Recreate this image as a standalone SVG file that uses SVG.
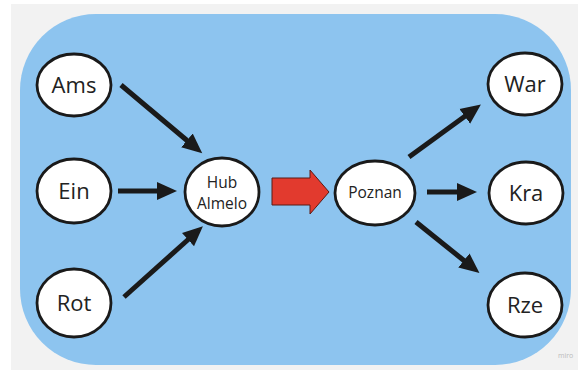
<svg xmlns="http://www.w3.org/2000/svg" width="578" height="370" viewBox="0 0 578 370">
<style>
.node ellipse{fill:#fff;stroke:#1a1a1a;stroke-width:2.8}
.lbl{font-family:"Open Sans","Noto Sans",sans-serif;fill:#222;text-anchor:middle;dominant-baseline:central}
.big{font-size:22px}
.small{font-size:15.5px}
.conn line{stroke:#1a1a1a;stroke-width:5}
</style>
<defs>
<marker id="ah" markerUnits="userSpaceOnUse" markerWidth="22" markerHeight="22" viewBox="0 0 22 22" refX="4" refY="11" orient="auto">
<path d="M0,2 L20,11 L0,20 Z" fill="#1a1a1a"/>
</marker>
</defs>
<rect x="0" y="0" width="578" height="370" fill="#fff"/>
<rect x="11" y="4" width="567" height="366" fill="#f2f2f2"/>
<rect x="20" y="14" width="551" height="351" rx="76" ry="76" fill="#8dc4ef"/>
<g class="conn">
<line x1="121" y1="85" x2="190" y2="143" marker-end="url(#ah)"/>
<line x1="118" y1="191" x2="161" y2="191" marker-end="url(#ah)"/>
<line x1="124" y1="297" x2="191" y2="237" marker-end="url(#ah)"/>
<line x1="409" y1="157" x2="468" y2="114" marker-end="url(#ah)"/>
<line x1="427" y1="192" x2="461" y2="192" marker-end="url(#ah)"/>
<line x1="416" y1="222" x2="467" y2="263" marker-end="url(#ah)"/>
<path d="M272,178 L310,178 L310,170 L329,192 L310,214 L310,205 L272,205 Z" fill="#e23a2e" stroke="#5a1a14" stroke-width="1"/>
</g>
<g id="ams" class="node"><ellipse cx="74" cy="85" rx="37" ry="31"/><text class="lbl big" x="74" y="84">Ams</text></g>
<g id="ein" class="node"><ellipse cx="74" cy="191" rx="37" ry="32"/><text class="lbl big" x="74" y="190">Ein</text></g>
<g id="rot" class="node"><ellipse cx="74" cy="303" rx="37" ry="34"/><text class="lbl big" x="74" y="302">Rot</text></g>
<g id="hub" class="node"><ellipse cx="222" cy="192" rx="37" ry="34"/><text class="lbl small" x="222" y="182">Hub</text><text class="lbl small" x="222" y="203">Almelo</text></g>
<g id="poznan" class="node"><ellipse cx="375" cy="193" rx="40" ry="32"/><text class="lbl small" x="375" y="192">Poznan</text></g>
<g id="war" class="node"><ellipse cx="525" cy="84" rx="37" ry="31"/><text class="lbl big" x="525" y="83">War</text></g>
<g id="kra" class="node"><ellipse cx="526" cy="193" rx="37" ry="31"/><text class="lbl big" x="526" y="192">Kra</text></g>
<g id="rze" class="node"><ellipse cx="525" cy="305" rx="37" ry="32"/><text class="lbl big" x="525" y="304">Rze</text></g>
<text x="558" y="358" font-family="'Open Sans',sans-serif" font-size="7" fill="#bbb">miro</text>
</svg>
